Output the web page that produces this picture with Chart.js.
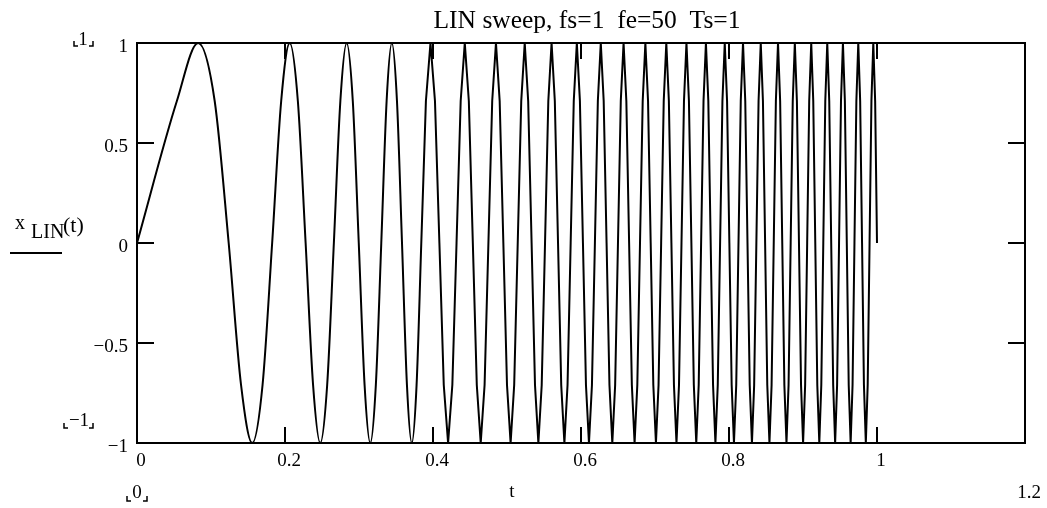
<!DOCTYPE html>
<html>
<head>
<meta charset="utf-8">
<script src="https://cdn.jsdelivr.net/npm/chart.js@4/dist/chart.umd.min.js"></script>
<style>
  html, body { margin: 0; padding: 0; background: #fff; }
  #wrap { width: 1047px; height: 508px; }
</style>
</head>
<body>
<div id="wrap"><canvas id="sweep" width="1047" height="508"></canvas></div>
<script>
// sweep samples: t (s) and x_LIN(t), eight points per cycle (one row each)
const sweepT = [
  0, 0.05388, 0.08265, 0.10498, 0.12390, 0.14061, 0.15574, 0.16967,
  0.18265, 0.19485, 0.20639, 0.21737, 0.22787, 0.23794, 0.24763, 0.25699,
  0.26603, 0.27481, 0.28332, 0.29161, 0.29968, 0.30755, 0.31524, 0.32276,
  0.33011, 0.33732, 0.34438, 0.35131, 0.35811, 0.36479, 0.37135, 0.37781,
  0.38417, 0.39042, 0.39659, 0.40266, 0.40865, 0.41455, 0.42038, 0.42613,
  0.43181, 0.43741, 0.44295, 0.44842, 0.45383, 0.45918, 0.46447, 0.46971,
  0.47488, 0.48001, 0.48508, 0.49010, 0.49507, 0.50000, 0.50488, 0.50971,
  0.51450, 0.51925, 0.52396, 0.52862, 0.53325, 0.53784, 0.54239, 0.54691,
  0.55139, 0.55583, 0.56024, 0.56462, 0.56896, 0.57327, 0.57756, 0.58181,
  0.58603, 0.59022, 0.59438, 0.59852, 0.60263, 0.60671, 0.61076, 0.61479,
  0.61879, 0.62277, 0.62673, 0.63066, 0.63456, 0.63845, 0.64231, 0.64615,
  0.64996, 0.65376, 0.65753, 0.66128, 0.66502, 0.66873, 0.67242, 0.67609,
  0.67974, 0.68338, 0.68699, 0.69059, 0.69417, 0.69773, 0.70127, 0.70480,
  0.70831, 0.71180, 0.71528, 0.71874, 0.72218, 0.72561, 0.72902, 0.73242,
  0.73580, 0.73916, 0.74251, 0.74585, 0.74917, 0.75248, 0.75577, 0.75905,
  0.76232, 0.76557, 0.76881, 0.77204, 0.77525, 0.77845, 0.78164, 0.78481,
  0.78797, 0.79112, 0.79426, 0.79738, 0.80050, 0.80360, 0.80669, 0.80977,
  0.81283, 0.81589, 0.81894, 0.82197, 0.82499, 0.82800, 0.83101, 0.83400,
  0.83698, 0.83995, 0.84291, 0.84586, 0.84880, 0.85173, 0.85465, 0.85756,
  0.86046, 0.86335, 0.86623, 0.86911, 0.87197, 0.87482, 0.87767, 0.88050,
  0.88333, 0.88615, 0.88896, 0.89176, 0.89455, 0.89734, 0.90011, 0.90288,
  0.90564, 0.90839, 0.91113, 0.91386, 0.91659, 0.91931, 0.92202, 0.92472,
  0.92742, 0.93011, 0.93279, 0.93546, 0.93812, 0.94078, 0.94343, 0.94608,
  0.94871, 0.95134, 0.95396, 0.95658, 0.95918, 0.96178, 0.96438, 0.96697,
  0.96954, 0.97212, 0.97469, 0.97725, 0.97980, 0.98235, 0.98489, 0.98742,
  0.98995, 0.99247, 0.99499, 0.99750, 1.0
];
const sweepX = [
  0, 0.71, 1, 0.71, 0, -0.71, -1, -0.71,
  0, 0.71, 1, 0.71, 0, -0.71, -1, -0.71,
  0, 0.71, 1, 0.71, 0, -0.71, -1, -0.71,
  0, 0.71, 1, 0.71, 0, -0.71, -1, -0.71,
  0, 0.71, 1, 0.71, 0, -0.71, -1, -0.71,
  0, 0.71, 1, 0.71, 0, -0.71, -1, -0.71,
  0, 0.71, 1, 0.71, 0, -0.71, -1, -0.71,
  0, 0.71, 1, 0.71, 0, -0.71, -1, -0.71,
  0, 0.71, 1, 0.71, 0, -0.71, -1, -0.71,
  0, 0.71, 1, 0.71, 0, -0.71, -1, -0.71,
  0, 0.71, 1, 0.71, 0, -0.71, -1, -0.71,
  0, 0.71, 1, 0.71, 0, -0.71, -1, -0.71,
  0, 0.71, 1, 0.71, 0, -0.71, -1, -0.71,
  0, 0.71, 1, 0.71, 0, -0.71, -1, -0.71,
  0, 0.71, 1, 0.71, 0, -0.71, -1, -0.71,
  0, 0.71, 1, 0.71, 0, -0.71, -1, -0.71,
  0, 0.71, 1, 0.71, 0, -0.71, -1, -0.71,
  0, 0.71, 1, 0.71, 0, -0.71, -1, -0.71,
  0, 0.71, 1, 0.71, 0, -0.71, -1, -0.71,
  0, 0.71, 1, 0.71, 0, -0.71, -1, -0.71,
  0, 0.71, 1, 0.71, 0, -0.71, -1, -0.71,
  0, 0.71, 1, 0.71, 0, -0.71, -1, -0.71,
  0, 0.71, 1, 0.71, 0, -0.71, -1, -0.71,
  0, 0.71, 1, 0.71, 0, -0.71, -1, -0.71,
  0, 0.71, 1, 0.71, 0, -0.71, -1, -0.71,
  0, 0.71, 1, 0.71, 0
];
// the slow first cycles are drawn smooth, the fast part as the plain sampled zigzag
const smoothUntil = 32;

const xTicks = [0, 0.2, 0.4, 0.6, 0.8, 1];
const xTickLabels = ['0', '0.2', '0.4', '0.6', '0.8', '1'];
const yTicks = [1, 0.5, 0, -0.5, -1];
const yTickLabels = ['1', '0.5', '0', '\u22120.5', '\u22121'];
const xLimits = [0, 1.2];
const yLimits = [-1, 1];

const titleText = 'LIN sweep, fs=1  fe=50  Ts=1';
const serif = '"Liberation Serif", "Times New Roman", serif';

const points = sweepT.map((t, i) => ({ x: t, y: sweepX[i] }));

// small mathcad style corner brackets
function bracket(ctx, x, yb, side) {
  ctx.beginPath();
  if (side === 'l') {
    ctx.moveTo(x, yb - 5); ctx.lineTo(x, yb); ctx.lineTo(x + 4, yb);
  } else {
    ctx.moveTo(x - 4, yb); ctx.lineTo(x, yb); ctx.lineTo(x, yb - 5);
  }
  ctx.stroke();
}

const mathcadFrame = {
  id: 'mathcadFrame',
  afterDatasetsDraw(chart) {
    const ctx = chart.ctx;
    const a = chart.chartArea;
    const xs = chart.scales.x, ys = chart.scales.y;
    ctx.save();
    ctx.strokeStyle = '#000';
    ctx.fillStyle = '#000';
    ctx.lineWidth = 2;
    ctx.strokeRect(a.left, a.top, a.right - a.left, a.bottom - a.top);

    // inward ticks
    xTicks.forEach(v => {
      const px = Math.round(xs.getPixelForValue(v));
      ctx.beginPath();
      ctx.moveTo(px, a.bottom); ctx.lineTo(px, a.bottom - 16);
      ctx.moveTo(px, a.top); ctx.lineTo(px, a.top + 16);
      ctx.stroke();
    });
    yTicks.forEach(v => {
      const py = Math.round(ys.getPixelForValue(v));
      ctx.beginPath();
      ctx.moveTo(a.left, py); ctx.lineTo(a.left + 17, py);
      ctx.moveTo(a.right, py); ctx.lineTo(a.right - 17, py);
      ctx.stroke();
    });

    ctx.font = '19px ' + serif;
    ctx.textBaseline = 'middle';
    ctx.textAlign = 'right';
    yTicks.forEach((v, i) => {
      ctx.fillText(yTickLabels[i], a.left - 9, ys.getPixelForValue(v) + 4);
    });
    ctx.textAlign = 'center';
    xTicks.forEach((v, i) => {
      ctx.fillText(xTickLabels[i], xs.getPixelForValue(v) + 4, a.bottom + 18);
    });

    // axis limit markers
    ctx.lineWidth = 1.5;
    const x0 = xs.getPixelForValue(xLimits[0]);
    ctx.fillText(String(xLimits[0]), x0, a.bottom + 50);
    bracket(ctx, x0 - 10, a.bottom + 58, 'l');
    bracket(ctx, x0 + 10, a.bottom + 58, 'r');
    ctx.fillText(String(xLimits[1]), xs.getPixelForValue(xLimits[1]) + 4, a.bottom + 50);

    ctx.fillText(String(yLimits[1]), 83, a.top - 3);
    bracket(ctx, 74, a.top + 3, 'l');
    bracket(ctx, 93, a.top + 3, 'r');
    ctx.fillText('\u22121', 79, a.bottom - 22);
    bracket(ctx, 64, a.bottom - 15, 'l');
    bracket(ctx, 93, a.bottom - 15, 'r');

    // axis name
    ctx.fillText('t', 512, a.bottom + 49);

    // trace label
    ctx.textAlign = 'left';
    ctx.textBaseline = 'alphabetic';
    ctx.font = '20px ' + serif;
    ctx.fillText('x', 15, 229);
    ctx.fillText('LIN', 31, 238);
    ctx.font = '22px ' + serif;
    ctx.fillText('(t)', 63, 232);
    ctx.lineWidth = 2;
    ctx.beginPath();
    ctx.moveTo(10, 253); ctx.lineTo(62, 253);
    ctx.stroke();

    // title
    ctx.font = '25.5px ' + serif;
    ctx.textAlign = 'center';
    ctx.fillText(titleText, 587, 28);
    ctx.restore();
  }
};

const lineStyle = { borderColor: '#000', borderWidth: 2, pointRadius: 0, fill: false };

new Chart(document.getElementById('sweep'), {
  type: 'line',
  data: {
    datasets: [
      Object.assign({ data: points.slice(0, smoothUntil + 1), cubicInterpolationMode: 'monotone' }, lineStyle),
      Object.assign({ data: points.slice(smoothUntil), tension: 0 }, lineStyle)
    ]
  },
  options: {
    responsive: false,
    devicePixelRatio: 1,
    animation: false,
    layout: { padding: { left: 137, right: 22, top: 43, bottom: 65 } },
    plugins: { legend: { display: false }, tooltip: { enabled: false }, title: { display: false } },
    scales: {
      x: { type: 'linear', min: xLimits[0], max: xLimits[1], display: false },
      y: { type: 'linear', min: yLimits[0], max: yLimits[1], display: false }
    }
  },
  plugins: [mathcadFrame]
});
</script>
</body>
</html>
